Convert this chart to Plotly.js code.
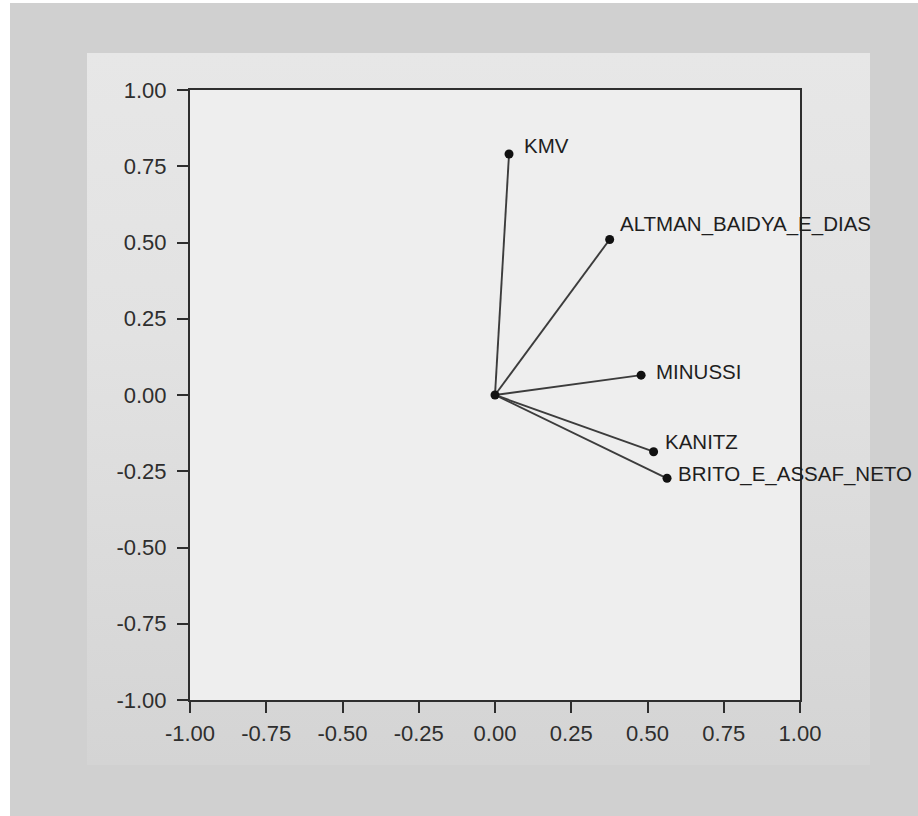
<!DOCTYPE html>
<html>
<head>
<meta charset="utf-8">
<script src="https://cdn.plot.ly/plotly-3.0.1.min.js"></script>
<style>
  html, body { margin: 0; padding: 0; background: #ffffff; }
  #outer { position: absolute; left: 10px; top: 3px; width: 908px; height: 813px; background: #d0d0d0; }
  #panel { position: absolute; left: 87px; top: 53px; width: 783px; height: 712px;
           background: linear-gradient(to bottom, #e7e7e7 0%, #e2e2e2 40%, #d4d4d4 100%); }
  #chart { position: absolute; left: 0; top: 0; width: 918px; height: 816px; }
</style>
</head>
<body>
<div id="outer"></div>
<div id="panel"></div>
<div id="chart"></div>
<script>
// Component loadings
const variables = ["KMV", "ALTMAN_BAIDYA_E_DIAS", "MINUSSI", "KANITZ", "BRITO_E_ASSAF_NETO"];
const comp1 = [0.046, 0.376, 0.479, 0.520, 0.564];
const comp2 = [0.790, 0.510, 0.065, -0.186, -0.273];
const tickVals = [-1.00, -0.75, -0.50, -0.25, 0.00, 0.25, 0.50, 0.75, 1.00];
const tickText = ["-1.00", "-0.75", "-0.50", "-0.25", "0.00", "0.25", "0.50", "0.75", "1.00"];
// label offsets (pixels) — styling only
const labelDX = [13, 8, 13, 9, 9];
const labelDY = [9, 15, 4, 10, 4];

// vectors from the origin
const lx = [], ly = [];
for (let i = 0; i < variables.length; i++) {
  lx.push(0, comp1[i], null);
  ly.push(0, comp2[i], null);
}

const traces = [
  { type: "scatter", mode: "lines", x: lx, y: ly, hoverinfo: "skip",
    line: { color: "#3c3c3c", width: 1.9 }, showlegend: false, cliponaxis: false },
  { type: "scatter", mode: "markers", x: [0].concat(comp1), y: [0].concat(comp2),
    marker: { color: "#111111", size: 9 }, showlegend: false, cliponaxis: false }
];

const annotations = variables.map((v, i) => ({
  x: comp1[i], y: comp2[i], xref: "x", yref: "y", text: v, showarrow: false,
  xanchor: "left", yanchor: "middle", xshift: labelDX[i], yshift: labelDY[i],
  font: { family: "Liberation Sans, Arial, sans-serif", size: 20.5, color: "#1e1e1e" }
}));

const axisCommon = {
  range: [-1, 1], tickvals: tickVals, ticktext: tickText, showgrid: false, zeroline: false,
  showline: true, mirror: true, linecolor: "#2e2e2e", linewidth: 2,
  ticks: "outside", ticklen: 11, tickwidth: 2, tickcolor: "#2e2e2e",
  tickfont: { family: "Liberation Sans, Arial, sans-serif", size: 22, color: "#2e2e2e" },
  fixedrange: true
};

const layout = {
  width: 918, height: 816,
  margin: { l: 190, r: 118, t: 90, b: 116 },
  paper_bgcolor: "rgba(0,0,0,0)",
  plot_bgcolor: "#eeeeee",
  xaxis: Object.assign({}, axisCommon, { ticklabelstandoff: 2 }),
  yaxis: Object.assign({}, axisCommon, { ticklabelstandoff: 6 }),
  annotations: annotations,
  showlegend: false
};

Plotly.newPlot("chart", traces, layout, { displayModeBar: false, staticPlot: true });
</script>
</body>
</html>
